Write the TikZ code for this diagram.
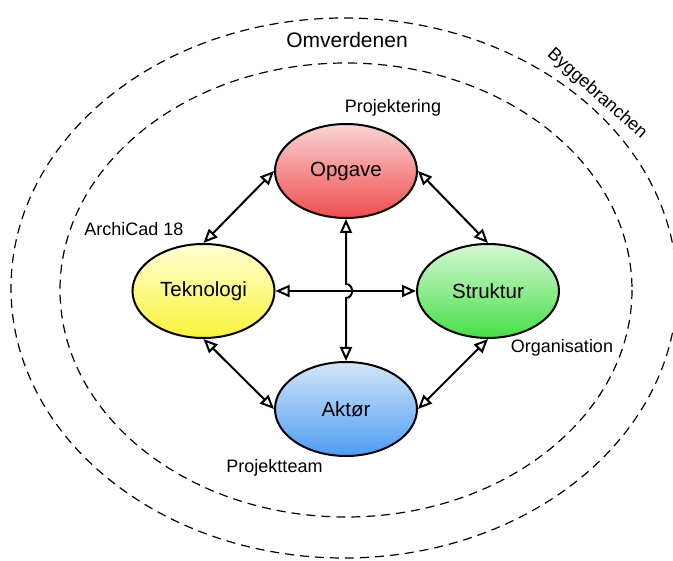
\documentclass[tikz,border=0pt]{standalone}
\usepackage{fontspec}
\setmainfont{Liberation Sans}
\usetikzlibrary{arrows.meta,shapes.geometric}

% fill gradients of the four ellipses
\definecolor{redtop}{HTML}{FAD4D4}
\definecolor{redbot}{HTML}{F04C4C}
\definecolor{yeltop}{HTML}{FFFFD4}
\definecolor{yelbot}{HTML}{F8F438}
\definecolor{grntop}{HTML}{D4F7D4}
\definecolor{grnbot}{HTML}{46E046}
\definecolor{blutop}{HTML}{D4E6FA}
\definecolor{blubot}{HTML}{4C9CF2}

\begin{document}
\begin{tikzpicture}[x=1pt,y=-1pt,
  blob/.style={ellipse, draw=black, line width=2pt, minimum width=142pt,
    minimum height=94pt, inner sep=0pt, font=\fontsize{20.5}{24}\selectfont},
  tag/.style={font=\fontsize{18}{21}\selectfont, inner sep=0pt},
  link/.style={line width=2pt,
    {Triangle[open,length=14pt,width=12pt]}-{Triangle[open,length=14pt,width=12pt]}},
  ring/.style={dash pattern=on 9pt off 6pt, line width=1.2pt}
]
\useasboundingbox (0,0) rectangle (673,561);

% surrounding contexts
\draw[ring] (344,288) ellipse [x radius=333, y radius=270];
\draw[ring] (346,290) ellipse [x radius=286, y radius=227];
\node[tag, font=\fontsize{21}{24}\selectfont] (omv) at (347,40) {Omverdenen};
\node[tag, rotate=-41.5] (byg) at (597,94) {Byggebranchen};

% the four elements
\node[blob, top color=redtop, bottom color=redbot] (O) at (346,171) {Opgave};
\node[blob, top color=yeltop, bottom color=yelbot] (T) at (203.5,291) {Teknologi};
\node[blob, top color=grntop, bottom color=grnbot] (S) at (488,291) {Struktur};
\node[blob, top color=blutop, bottom color=blubot] (A) at (346,409) {Aktør};

% labels
\node[tag] (proj) at (393,108) {Projektering};
\node[tag] (arch) at (134,229) {ArchiCad 18};
\node[tag] (org) at (562,348) {Organisation};
\node[tag] (team) at (274.5,468) {Projektteam};

% connectors
\coordinate (hopA) at (346,284);
\coordinate (hopB) at (346,298);
\draw[link] (O.west) -- (T.north);
\draw[link] (O.east) -- (S.north);
\draw[link] (T.south) -- (A.west);
\draw[link] (A.east) -- (S.south);
\draw[link] (T.east) -- (S.west);
\draw[link] (O.south) -- (hopA) .. controls +(8,0) and +(8,0) .. (hopB) -- (A.north);
\end{tikzpicture}
\end{document}
